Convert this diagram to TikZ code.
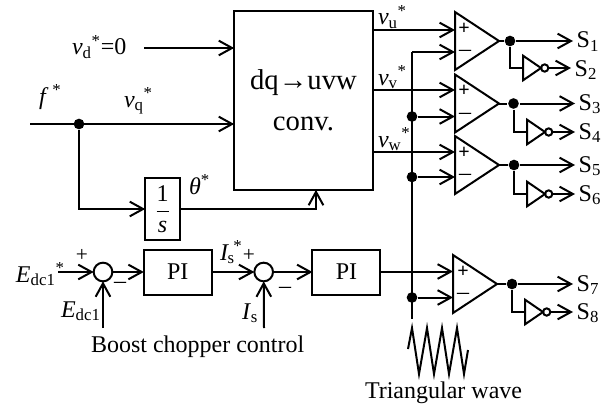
\documentclass[tikz,border=0pt]{standalone}
\usepackage{fontspec}
\setmainfont{Liberation Serif}
\usepackage{tikz}
\usetikzlibrary{arrows.meta,positioning,shapes.geometric}

\begin{document}
\begin{tikzpicture}[
    x=0.75pt, y=-0.75pt,
    line width=1.5pt,
    every node/.style={font=\fontsize{18}{20}\selectfont},
    block/.style={draw, inner sep=0pt, minimum width=51pt, minimum height=33.75pt, align=center, outer sep=0pt},
    conv/.style={draw, inner sep=0pt, minimum width=104pt, minimum height=134pt, align=center, outer sep=0pt, font=\fontsize{21.5}{31}\selectfont},
    sumnode/.style={draw, circle, inner sep=0pt, minimum size=14pt, outer sep=0pt},
    cmp/.style={draw, isosceles triangle, isosceles triangle stretches, anchor=west, inner sep=0pt, outer sep=0pt, minimum width=43.5pt, minimum height=33pt},
    inv/.style={draw, isosceles triangle, isosceles triangle stretches, anchor=west, inner sep=0pt, outer sep=0pt, minimum width=18.5pt, minimum height=13.5pt},
    bubble/.style={draw, circle, inner sep=0pt, minimum size=5.5pt, outer sep=0pt},
    joint/.style={fill, circle, inner sep=0pt, minimum size=8pt},
    txt/.style={anchor=base west, inner sep=0pt},
    sig/.style={anchor=base west, inner sep=2pt},
    plusmark/.style={inner sep=0pt, font=\fontsize{15}{15}\selectfont\bfseries},
    summark/.style={inner sep=0pt, font=\fontsize{16}{16}\selectfont},
    minusmark/.style={inner sep=0pt},
    arrow/.style={-{Straight Barb[length=10pt, width=11pt, line width=1.5pt]}}
  ]
    \useasboundingbox (0,0) rectangle (606,403);

    % voltage references
    \node[conv] (conv) at (303.5,100.5) {dq→uvw\\conv.};
    \coordinate (vdin) at (144,48);
    \coordinate (fin) at (30,124);
    \node[joint] (fjoint) at (79,124) {};
    \node[draw, inner sep=0pt, outer sep=0pt, minimum width=26pt, minimum height=46.5pt] (integ) at (162.5,209) {$\displaystyle\frac{\mbox{1}}{\mbox{\itshape s}}$};
    \coordinate (thetaup) at (316,209);
    \draw[arrow] (vdin) -- (vdin -| conv.west);
    \draw[arrow] (fin) -- (fin -| conv.west);
    \draw[arrow] (fjoint) |- (integ.west);
    \draw[arrow] (integ.east) -| (conv.south -| thetaup);

    % boost chopper loop
    \node[sumnode] (sumone) at (103,272) {};
    \node[block, right=23.6pt of sumone] (pione) {PI};
    \node[sumnode, right=31.9pt of pione] (sumtwo) {};
    \node[block, right=29.6pt of sumtwo] (pitwo) {PI};
    \coordinate (einit) at (58,272);
    \coordinate (efb) at (103,328);
    \coordinate (ifb) at (264,328);
    \draw[arrow] (einit) -- (sumone);
    \draw[arrow] (efb) -- (sumone);
    \draw[arrow] (ifb) -- (sumtwo);
    \draw[arrow] (sumone) -- (pione);
    \draw[arrow] (pione) -- (sumtwo);
    \draw[arrow] (sumtwo) -- (pitwo);

    % comparators
    \node[cmp] (cmpa) at (455,41) {};
    \node[cmp] (cmpb) at (455,103.5) {};
    \node[cmp] (cmpc) at (455,165) {};
    \node[cmp] (cmpd) at (453,284) {};
    \coordinate (pa) at (455,30);
    \coordinate (ma) at (455,52);
    \coordinate (pb) at (455,90);
    \coordinate (mb) at (455,116.5);
    \coordinate (pc) at (455,152);
    \coordinate (mc) at (455,177);
    \coordinate (pd) at (453,271.5);
    \coordinate (md) at (453,297.5);
    \coordinate (railtop) at (412,52);
    \coordinate (railend) at (412,319);
    \node[joint] (railb) at (412,116.5) {};
    \node[joint] (railc) at (412,177) {};
    \node[joint] (raild) at (412,297.5) {};
    \draw (railtop) -- (railend);
    \draw[arrow] (pa -| conv.east) -- (pa);
    \draw[arrow] (pb -| conv.east) -- (pb);
    \draw[arrow] (pc -| conv.east) -- (pc);
    \draw[arrow] (pitwo.east |- pd) -- (pd);
    \draw[arrow] (railtop) -- (ma);
    \draw[arrow] (railb) -- (mb);
    \draw[arrow] (railc) -- (mc);
    \draw[arrow] (raild) -- (md);

    % gate outputs
    \node[joint] (outa) at (510,41) {};
    \node[joint] (outb) at (513.5,103.5) {};
    \node[joint] (outc) at (514,165) {};
    \node[joint] (outd) at (512,284) {};
    \node[inv] (inva) at (523,68) {};
    \node[inv] (invb) at (527,132) {};
    \node[inv] (invc) at (527,194) {};
    \node[inv] (invd) at (525,312) {};
    \node[bubble, right=0pt of inva] (boa) {};
    \node[bubble, right=0pt of invb] (bob) {};
    \node[bubble, right=0pt of invc] (boc) {};
    \node[bubble, right=0pt of invd] (bod) {};
    \node[sig] (sone) at (573,48) {S\textsubscript{1}};
    \node[sig] (stwo) at (571,76) {S\textsubscript{2}};
    \node[sig] (sthree) at (575,110) {S\textsubscript{3}};
    \node[sig] (sfour) at (575,139) {S\textsubscript{4}};
    \node[sig] (sfive) at (575,172) {S\textsubscript{5}};
    \node[sig] (ssix) at (575,201) {S\textsubscript{6}};
    \node[sig] (sseven) at (573,291) {S\textsubscript{7}};
    \node[sig] (seight) at (573,319) {S\textsubscript{8}};
    \draw (cmpa.east) -- (outa);
    \draw (cmpb.east) -- (outb);
    \draw (cmpc.east) -- (outc);
    \draw (cmpd.east) -- (outd);
    \draw[arrow] (outa) -- (outa -| sone.west);
    \draw[arrow] (outb) -- (outb -| sthree.west);
    \draw[arrow] (outc) -- (outc -| sfive.west);
    \draw[arrow] (outd) -- (outd -| sseven.west);
    \draw (outa) |- (inva.west);
    \draw (outb) |- (invb.west);
    \draw (outc) |- (invc.west);
    \draw (outd) |- (invd.west);
    \draw[arrow] (boa) -- (boa -| stwo.west);
    \draw[arrow] (bob) -- (bob -| sfour.west);
    \draw[arrow] (boc) -- (boc -| ssix.west);
    \draw[arrow] (bod) -- (bod -| seight.west);

    % triangular wave
    \draw (408,349) -- (412,328) -- (419,374) -- (427,328) -- (434,374) -- (442,328) -- (449,374) -- (457,328) -- (464,374) -- (468,350);

    % labels
    \node[txt] (vd) at (71,55) {\textit{v}\textsubscript{d}\textsuperscript{*}=0};
    \node[txt] (fstar) at (38,104) {\textit{f}\,\textsuperscript{*}};
    \node[txt] (vq) at (123,107) {\textit{v}\textsubscript{q}\textsuperscript{*}};
    \node[txt] (theta) at (188,194) {\textit{θ}\textsuperscript{*}};
    \node[txt] (vu) at (377,25) {\textit{v}\textsubscript{u}\textsuperscript{*}};
    \node[txt] (vv) at (377,85) {\textit{v}\textsubscript{v}\textsuperscript{*}};
    \node[txt] (vw) at (377,147) {\textit{v}\textsubscript{w}\textsuperscript{*}};
    \node[txt] (eref) at (15,282) {\textit{E}\textsubscript{dc1}\textsuperscript{*}};
    \node[txt] (efbl) at (60,317) {\textit{E}\textsubscript{dc1}};
    \node[txt] (iref) at (219,260) {\textit{I}\kern-1pt\textsubscript{s}\kern-1pt\textsuperscript{*}};
    \node[txt] (ifbl) at (241,319) {\textit{I}\textsubscript{s}};
    \node[summark] (plusa) at (82,255) {+};
    \node[minusmark] (minusa) at (120,285) {–};
    \node[summark] (plusb) at (249,255) {+};
    \node[minusmark] (minusb) at (285,290) {–};
    \node[plusmark] (pca) at (464,29) {+};
    \node[minusmark] (mca) at (465,53) {–};
    \node[plusmark] (pcb) at (464,91) {+};
    \node[minusmark] (mcb) at (465,116) {–};
    \node[plusmark] (pcc) at (464,153) {+};
    \node[minusmark] (mcc) at (465,177) {–};
    \node[plusmark] (pcd) at (463,272) {+};
    \node[minusmark] (mcd) at (463,296) {–};
    \node[txt] (boost) at (90,352.5) {Boost chopper control};
    \node[txt] (tri) at (364,398) {Triangular wave};
  \end{tikzpicture}
\end{document}
